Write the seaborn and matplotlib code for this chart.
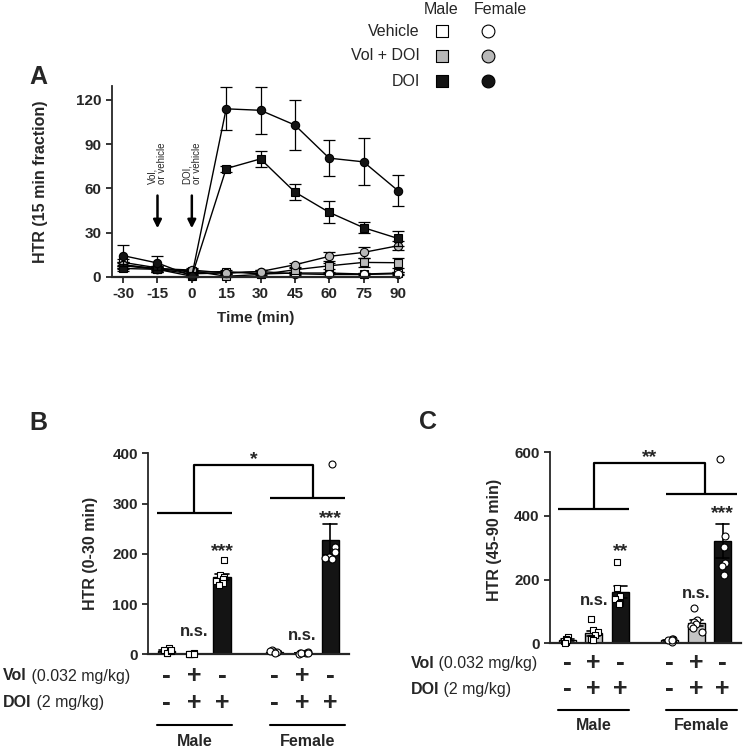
import matplotlib
matplotlib.use("Agg")
import matplotlib.pyplot as plt
import matplotlib.transforms as mtransforms
import numpy as np
import pandas as pd
import seaborn as sns

# ---- panel A: HTR per 15 min fraction, mean and SEM ----
time_min = [-30, -15, 0, 15, 30, 45, 60, 75, 90]
male_veh_mean = [9.7, 6.0, 3.0, 3.5, 1.8, 2.5, 2.5, 1.8, 2.5]
male_veh_sem = [2.0, 1.5, 1.0, 1.0, 0.8, 1.0, 1.0, 0.8, 1.0]
male_vol_mean = [7.5, 5.0, 4.0, 0.3, 1.5, 4.7, 7.4, 9.7, 9.5]
male_vol_sem = [2.0, 1.5, 1.5, 0.5, 1.0, 1.5, 2.0, 3.0, 3.5]
male_doi_mean = [5.6, 5.0, 0.3, 73.4, 80.0, 57.5, 43.7, 33.3, 26.0]
male_doi_sem = [1.5, 1.5, 0.3, 2.0, 5.5, 5.5, 7.4, 3.8, 5.0]
fem_veh_mean = [8.0, 5.0, 2.0, 2.5, 3.5, 2.0, 1.5, 1.5, 2.0]
fem_veh_sem = [2.0, 1.5, 1.0, 1.0, 1.0, 1.0, 0.8, 0.8, 1.0]
fem_vol_mean = [8.0, 5.5, 4.5, 2.5, 3.5, 8.1, 13.8, 16.5, 21.0]
fem_vol_sem = [2.0, 1.5, 1.5, 1.0, 1.0, 1.5, 3.0, 3.5, 3.0]
fem_doi_mean = [14.3, 9.3, 0.5, 114.0, 113.0, 103.0, 80.5, 78.0, 58.5]
fem_doi_sem = [7.0, 5.0, 0.5, 14.7, 16.0, 17.0, 12.0, 16.0, 10.7]

# ---- panels B and C: individual animals ----
group_sex = ["Male", "Male", "Male", "Female", "Female", "Female"]
group_treat = ["Vehicle", "Vol + DOI", "DOI", "Vehicle", "Vol + DOI", "DOI"]
vol_signs = ["-", "+", "-", "-", "+", "-"]
doi_signs = ["-", "+", "+", "-", "+", "+"]

b_male_veh = [3, 12, 8, 2, 6, 9]
b_male_vol = [0, 1, 0, 2, 1, 0]
b_male_doi = [188, 158, 154, 150, 146, 142, 138]
b_fem_veh = [6, 8, 4, 5, 7, 3]
b_fem_vol = [2, 3, 1, 2, 4, 3]
b_fem_doi = [379, 213, 203, 193, 192, 190]

c_male_veh = [20, 15, 8, 5, 10, 2]
c_male_vol = [77, 42, 35, 25, 18, 12, 10]
c_male_doi = [255, 173, 150, 140, 128, 122]
c_fem_veh = [8, 12, 5, 15, 10, 9]
c_fem_vol = [110, 72, 66, 60, 55, 48, 36]
c_fem_doi = [578, 337, 304, 251, 243, 215]

group_pos = [0, 1, 2, 3.87, 4.87, 5.87]
fills = {"Vehicle": "white", "Vol + DOI": "#c4c4c4", "DOI": "#141414"}

sns.set_style("ticks")
plt.rcParams["font.family"] = ["Liberation Sans", "DejaVu Sans"]
plt.rcParams["font.weight"] = "bold"
plt.rcParams["axes.unicode_minus"] = False
np.random.seed(3)  # only for the horizontal scatter of the dots

fig = plt.figure(figsize=(7.44, 7.5), dpi=100)
W, H = 744.0, 750.0


def px_axes(x0, y_top, x1, y_bot):
    return fig.add_axes([x0 / W, 1 - y_bot / H, (x1 - x0) / W, (y_bot - y_top) / H])


def style_axes(ax):
    sns.despine(ax=ax)
    ax.spines["left"].set_linewidth(1.3)
    ax.spines["bottom"].set_linewidth(1.6)
    ax.tick_params(width=1.3, length=4, labelsize=11)
    for lab in ax.get_yticklabels() + ax.get_xticklabels():
        lab.set_fontweight("bold")


# ---------------- panel A ----------------
axA = px_axes(111.7, 86, 399, 276.7)
series = [
    (male_veh_mean, male_veh_sem, "s", "white"),
    (fem_veh_mean, fem_veh_sem, "o", "white"),
    (male_vol_mean, male_vol_sem, "s", "#b8b8b8"),
    (fem_vol_mean, fem_vol_sem, "o", "#b8b8b8"),
    (male_doi_mean, male_doi_sem, "s", "#141414"),
    (fem_doi_mean, fem_doi_sem, "o", "#141414"),
]
for mean, sem, mk, fc in series:
    axA.errorbar(time_min, mean, yerr=sem, fmt="none", ecolor="black",
                 elinewidth=0.9, capsize=4, capthick=0.9, clip_on=False)
    sns.lineplot(x=time_min, y=mean, ax=axA, color="black", linewidth=1,
                 marker=mk, markersize=6, markerfacecolor=fc,
                 markeredgecolor="black", markeredgewidth=0.8,
                 errorbar=None, clip_on=False)
axA.set_xlim(-35, 90.5)
axA.set_ylim(0, 129.5)
axA.set_xticks(time_min)
axA.set_yticks([0, 30, 60, 90, 120])
style_axes(axA)
axA.set_xlabel("Time (min)", fontsize=11, fontweight="bold")
axA.set_ylabel("HTR (15 min fraction)", fontsize=11.5, fontweight="bold")
axA.xaxis.set_label_coords(0.5, -0.18)
axA.yaxis.set_label_coords(-0.222, 0.5)

for xa, lab in [(-15, "Vol,\nor vehicle"), (0, "DOI,\nor vehicle")]:
    axA.annotate("", xy=(xa, 31), xytext=(xa, 57),
                 arrowprops=dict(arrowstyle="-|>", color="black", lw=1.8,
                                 mutation_scale=12))
    axA.text(xa, 63, lab, rotation=90, ha="center", va="bottom",
             multialignment="left", fontsize=7, fontweight="normal",
             linespacing=1.0)


# ---------------- panels B and C ----------------
def bar_panel(ax, vals, ymax, ystep, ylabel, label_y):
    rows = []
    for pos, sex, treat, v in zip(group_pos, group_sex, group_treat, vals):
        rows += [{"pos": pos, "sex": sex, "treat": treat, "htr": x} for x in v]
    df = pd.DataFrame(rows)
    sns.barplot(data=df, x="pos", y="htr", hue="treat", palette=fills,
                native_scale=True, dodge=False, width=0.63, errorbar="se",
                capsize=0.5, err_kws={"color": "black", "linewidth": 1.2},
                edgecolor="black", linewidth=1, legend=False, ax=ax)
    for sex, mk in [("Male", "s"), ("Female", "o")]:
        sns.stripplot(data=df[df["sex"] == sex], x="pos", y="htr",
                      native_scale=True, jitter=0.22, marker=mk, color="white",
                      edgecolor="black", linewidth=0.8, size=5, ax=ax,
                      legend=False)
    for coll in ax.collections:
        coll.set_clip_on(False)
    ax.set_xlim(-0.65, 6.55)
    ax.set_ylim(0, ymax)
    ax.set_yticks(np.arange(0, ymax + 1, ystep))
    ax.set_xticks([])
    ax.set_xlabel("")
    style_axes(ax)
    ax.set_ylabel(ylabel, fontsize=11.5, fontweight="bold")
    ax.yaxis.set_label_coords(-0.25, label_y)


def under_rows(ax, lab_x, y_vol, y_doi, y_line, y_sex):
    tr = mtransforms.blended_transform_factory(ax.transData, fig.transFigure)
    for pos, vs, ds in zip(group_pos, vol_signs, doi_signs):
        for y, s in [(y_vol, vs), (y_doi, ds)]:
            ax.text(pos, y, s, transform=tr, ha="center", va="center",
                    fontsize=18 if s == "+" else 19, fontweight="bold")
    for x0, x1, name in [(-0.35, 2.35, "Male"), (3.72, 6.4, "Female")]:
        ax.plot([x0, x1], [y_line, y_line], transform=tr, color="black",
                lw=1.5, clip_on=False)
        ax.text((x0 + x1) / 2, y_sex, name, transform=tr, ha="center",
                va="center", fontsize=11.5, fontweight="bold")
    for y, head, rest in [(y_vol, "Vol", " (0.032 mg/kg)"),
                          (y_doi, "DOI", " (2 mg/kg)")]:
        t = fig.text(lab_x / W, y, head, ha="left", va="center",
                     fontsize=11.5, fontweight="bold")
        ax.annotate(rest, xy=(1, 0), xycoords=t, ha="left", va="bottom",
                    fontsize=11.5, fontweight="normal")


def bracket(ax, y_m, y_f, y_top, x_f, star, star_x, star_y):
    kw = dict(color="black", lw=1.6, clip_on=False, solid_capstyle="butt")
    ax.plot([-0.35, 2.35], [y_m, y_m], **kw)
    ax.plot([3.72, 6.4], [y_f, y_f], **kw)
    ax.plot([1, 1, x_f, x_f], [y_m, y_top, y_top, y_f], **kw)
    ax.text(star_x, star_y, star, ha="center", va="center", fontsize=14,
            fontweight="bold")


def sig(ax, marks):
    for x, y, s in marks:
        ax.text(x, y, s, ha="center", va="center",
                fontsize=12 if s == "n.s." else 14, fontweight="bold")


axB = px_axes(148.3, 453.3, 349.3, 654.3)
bar_panel(axB, [b_male_veh, b_male_vol, b_male_doi, b_fem_veh, b_fem_vol, b_fem_doi],
          400, 100, "HTR (0-30 min)", 0.5)
bracket(axB, 280.6, 311.6, 376.7, 5.26, "*", 3.13, 388)
sig(axB, [(1, 45, "n.s."), (2, 205, "***"), (4.87, 38, "n.s."), (5.87, 271, "***")])
under_rows(axB, 3, 1 - 676 / H, 1 - 702.7 / H, 1 - 725 / H, 1 - 741.7 / H)

axC = px_axes(550, 452.3, 740.7, 643.3)
bar_panel(axC, [c_male_veh, c_male_vol, c_male_doi, c_fem_veh, c_fem_vol, c_fem_doi],
          600, 200, "HTR (45-90 min)", 0.54)
bracket(axC, 421, 469, 565.5, 5.19, "**", 3.1, 582)
sig(axC, [(1, 135, "n.s."), (2, 288, "**"), (4.87, 155, "n.s."), (5.87, 408, "***")])
under_rows(axC, 410.7, 1 - 663.3 / H, 1 - 689.3 / H, 1 - 710 / H, 1 - 726 / H)

# ---------------- panel letters and legend ----------------
over = fig.add_axes([0, 0, 1, 1])
over.set_xlim(0, W)
over.set_ylim(H, 0)
over.axis("off")
for x, y, s in [(38, 77, "A"), (38, 423, "B"), (428, 422, "C")]:
    over.text(x, y, s, ha="center", va="center", fontsize=18, fontweight="bold")
over.text(441, 9, "Male", ha="center", va="center", fontsize=11.5, fontweight="normal")
over.text(500, 9, "Female", ha="center", va="center", fontsize=11.5, fontweight="normal")
for y, name, fc in [(31, "Vehicle", "white"), (56, "Vol + DOI", "#b8b8b8"),
                    (81, "DOI", "#141414")]:
    over.text(420, y, name, ha="right", va="center", fontsize=11.5, fontweight="normal")
    over.scatter([442], [y], marker="s", s=80, facecolor=fc, edgecolor="black", linewidth=0.8)
    over.scatter([488], [y], marker="o", s=85, facecolor=fc, edgecolor="black", linewidth=0.8)

fig.savefig("out.png", dpi=100)
